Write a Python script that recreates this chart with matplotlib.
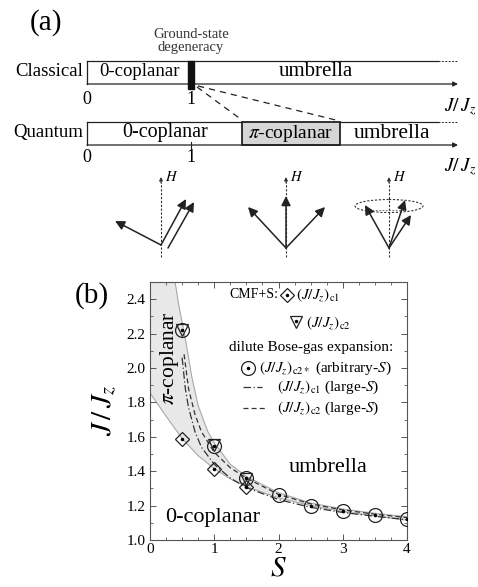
import numpy as np
import matplotlib
matplotlib.use('Agg')
import matplotlib.pyplot as plt
from matplotlib.patches import Rectangle, Ellipse
from matplotlib.ticker import MultipleLocator

plt.rcParams['font.family'] = ['Liberation Serif', 'DejaVu Serif']
plt.rcParams['mathtext.fontset'] = 'stix'

# ---- panel (b) data ----
S_cmf = [0.5, 1.0, 1.5]
Jc1_cmf = [1.59, 1.415, 1.31]
Jc2_cmf = [2.22, 1.555, 1.355]

S_bose = [0.5, 1.0, 1.5, 2.0, 2.5, 3.0, 3.5, 4.0]
Jc2_bose = [2.22, 1.545, 1.36, 1.26, 1.20, 1.17, 1.145, 1.125]

S_c1_large = [0.5, 0.55, 0.6, 0.7, 0.8, 1.0, 1.25, 1.5, 2.0, 2.5, 3.0, 3.5, 4.0]
Jc1_large = [2.06, 1.88, 1.77, 1.63, 1.54, 1.44, 1.36, 1.305, 1.235, 1.19, 1.16, 1.138, 1.118]
S_c2_large = [0.53, 0.6, 0.7, 0.8, 1.0, 1.25, 1.5, 2.0, 2.5, 3.0, 3.5, 4.0]
Jc2_large = [2.08, 1.88, 1.73, 1.63, 1.51, 1.42, 1.36, 1.265, 1.21, 1.175, 1.15, 1.13]

S_upper = [0.39, 0.45, 0.545, 0.65, 0.75, 0.9, 1.0, 1.25, 1.5, 2.0, 2.5, 3.0, 3.5, 4.0]
J_upper = [2.5, 2.36, 2.18, 1.95, 1.78, 1.63, 1.565, 1.44, 1.37, 1.275, 1.215, 1.18, 1.155, 1.135]
S_lower = [0.0, 0.25, 0.5, 0.75, 1.0, 1.25, 1.5, 2.0, 2.5, 3.0, 3.5, 4.0]
J_lower = [1.855, 1.72, 1.59, 1.49, 1.415, 1.355, 1.31, 1.245, 1.2, 1.165, 1.14, 1.115]

# ---- panel (a) data (J/Jz positions) ----
classical_ticks = [0, 1]
quantum_ticks = [0, 1]
pi_coplanar = [1.49, 2.43]


def px(j):
    # J/Jz -> pixel x for the schematic
    return 87 + 104 * j


fig = plt.figure(figsize=(4.78, 5.87), dpi=100)

# ================= panel (b) =================
ax = fig.add_axes([150 / 478, 1 - 540 / 587, 257 / 478, 258 / 587])
ax.fill(np.r_[0, S_upper, S_lower[::-1]], np.r_[2.5, J_upper, J_lower[::-1]],
        color='#e8e8e8', lw=0, zorder=0)
ax.plot(S_upper, J_upper, color='#a8a8a8', lw=0.8, zorder=1)
ax.plot(S_lower, J_lower, color='#a8a8a8', lw=0.8, zorder=1)
ax.plot(S_c1_large, Jc1_large, color='#333333', lw=0.9, ls=(0, (6, 2, 1, 2)), zorder=2)
ax.plot(S_c2_large, Jc2_large, color='#333333', lw=0.9, ls=(0, (4, 2.5)), zorder=2)

ax.plot(S_bose, Jc2_bose, 'o', mfc='none', mec='#222222', ms=10, mew=0.9, zorder=3)
ax.plot(S_cmf, Jc1_cmf, 'D', mfc='none', mec='#222222', ms=7.5, mew=0.9, zorder=3)
ax.plot(S_cmf, Jc2_cmf, 'v', mfc='none', mec='#222222', ms=9, mew=0.9, zorder=3)
ax.plot(S_bose, Jc2_bose, '.', color='k', ms=3, zorder=4)
ax.plot(S_cmf, Jc1_cmf, '.', color='k', ms=3, zorder=4)

ax.set_xlim(0, 4)
ax.set_ylim(1.0, 2.5)
ax.xaxis.set_major_locator(MultipleLocator(1))
ax.xaxis.set_minor_locator(MultipleLocator(0.25))
ax.yaxis.set_minor_locator(MultipleLocator(0.1))
ax.tick_params(which='both', direction='in', top=True, right=True, color='#555555')
ax.tick_params(which='major', length=4, width=0.7, labelsize=11)
ax.tick_params(axis='x', which='major', pad=2)
ax.tick_params(axis='y', which='major', pad=3)
ax.tick_params(which='minor', length=2, width=0.6)
ax.set_yticks([1.0, 1.2, 1.4, 1.6, 1.8, 2.0, 2.2, 2.4])
ax.set_yticklabels(['1.0', '1.2', '1.4', '1.6', '1.8', '2.0', '2.2', '2.4'])
for sp in ax.spines.values():
    sp.set_color('#555555')
    sp.set_linewidth(0.8)
ax.set_xlabel('$S$', fontsize=21, labelpad=0)
ax.set_ylabel('$J\\,/\\,J_z$', fontsize=21, labelpad=6)

ax.text(0.3, 2.06, '$\\pi$-coplanar', rotation=90, fontsize=15.5, ha='center', va='center')
ax.text(2.77, 1.42, 'umbrella', fontsize=16, ha='center', va='center')
ax.text(0.98, 1.13, '0-coplanar', fontsize=16, ha='center', va='center')

# ================= overlay (panel a + legend) =================
ov = fig.add_axes([0, 0, 1, 1], zorder=5)
ov.set_xlim(0, 478)
ov.set_ylim(587, 0)
ov.axis('off')
ov.patch.set_alpha(0)

ov.text(46, 23, '(a)', fontsize=21, ha='center', va='center')
ov.text(92, 296, '(b)', fontsize=21, ha='center', va='center')

arr = dict(arrowstyle='-|>', lw=0.9, color='#222222', mutation_scale=7, shrinkA=0, shrinkB=0)

# classical bar
ov.plot([px(0), 438], [61, 61], color='#222222', lw=0.9)
ov.plot([438, 458], [61, 61], color='#222222', lw=0.7, ls=(0, (2, 1.5)))
ov.plot([px(0), px(0)], [61, 84], color='#222222', lw=0.9)
ov.annotate('', xy=(458, 84), xytext=(px(0), 84), arrowprops=arr)
ov.add_patch(Rectangle((px(1) - 2.5, 61), 6, 28, color='#111111', zorder=3))
ov.text(83, 72, 'Classical', fontsize=13.5, ha='right', va='center')
ov.text(140, 71, '0-coplanar', fontsize=13.5, ha='center', va='center')
ov.text(316, 71, 'umbrella', fontsize=15, ha='center', va='center')
for t in classical_ticks:
    ov.text(px(t), 99, str(t), fontsize=13, ha='center', va='center')
ov.text(476, 107, '$J/\\,J_z$', fontsize=14, ha='right', va='center')
ov.text(191, 34, 'Ground-state', fontsize=10.5, ha='center', va='center', color='#333333')
ov.text(191, 48, 'degeneracy', fontsize=10.5, ha='center', va='center', color='#333333')

# zoom dashes
ov.plot([197, px(pi_coplanar[0])], [87, 120], color='#222222', lw=0.9, ls=(0, (5, 4)))
ov.plot([198, px(pi_coplanar[1])], [86, 121], color='#222222', lw=0.9, ls=(0, (5, 4)))

# quantum bar
ov.plot([px(0), 438], [122, 122], color='#222222', lw=0.9)
ov.plot([438, 458], [122, 122], color='#222222', lw=0.7, ls=(0, (2, 1.5)))
ov.plot([px(0), px(0)], [122, 145], color='#222222', lw=0.9)
ov.annotate('', xy=(458, 145), xytext=(px(0), 145), arrowprops=arr)
ov.add_patch(Rectangle((px(pi_coplanar[0]), 122), px(pi_coplanar[1]) - px(pi_coplanar[0]), 23,
                       facecolor='#d6d6d6', edgecolor='#222222', lw=1.3, zorder=2))
ov.plot([px(1), px(1)], [142, 152], color='#222222', lw=0.8)
ov.text(83, 133, 'Quantum', fontsize=13.5, ha='right', va='center')
ov.text(165, 133, '0-coplanar', fontsize=14.5, ha='center', va='center')
ov.text(291, 133, '$\\pi$-coplanar', fontsize=14, ha='center', va='center')
ov.text(392, 133, 'umbrella', fontsize=15.5, ha='center', va='center')
for t in quantum_ticks:
    ov.text(px(t), 158, str(t), fontsize=13, ha='center', va='center')
ov.text(476, 167, '$J/\\,J_z$', fontsize=14, ha='right', va='center')

# spin configurations
spin = dict(arrowstyle='-|>', lw=1.1, color='#222222', mutation_scale=14, shrinkA=0, shrinkB=0)
head = dict(arrowstyle='-|>', lw=0.8, color='#333333', mutation_scale=5, shrinkA=0, shrinkB=0)
for xh in [161, 286, 389]:
    ov.plot([xh, xh], [257, 182], color='#333333', lw=0.8, ls=(0, (2, 1.5)))
    ov.annotate('', xy=(xh, 177), xytext=(xh, 183), arrowprops=head)
    ov.text(xh + 4, 177, '$H$', fontsize=10.5, ha='left', va='center')

diag1 = [((161, 245), (115, 221)), ((161, 245), (186, 199)), ((168, 248), (194, 202))]
diag2 = [((286, 248), (248, 207)), ((286, 248), (286, 196)), ((286, 248), (325, 207))]
diag3 = [((389, 248), (365, 205)), ((389, 248), (405, 200)), ((389, 248), (411, 215))]
for base, tip in diag1 + diag2 + diag3:
    ov.annotate('', xy=tip, xytext=base, arrowprops=spin)
ov.add_patch(Ellipse((389, 206), 68, 13, fill=False, ec='#333333', lw=0.8, ls=(0, (2, 1.5))))
ov.plot([372, 405], [210, 210], color='#555555', lw=0.6, ls=(0, (2, 2)))

# legend for panel (b)
lf = 11
ov.text(229, 295, 'CMF+S:', fontsize=10, ha='left', va='center')
ov.plot([287], [295], 'D', mfc='none', mec='#222222', ms=7.5, mew=0.9)
ov.plot([287], [295], '.', color='k', ms=3)
ov.text(296, 295, '$(J/J_z)_{\\rm c1}$', fontsize=lf, ha='left', va='center')
ov.plot([296], [322], 'v', mfc='none', mec='#222222', ms=9, mew=0.9)
ov.plot([296], [321], '.', color='k', ms=3)
ov.text(306, 323, '$(J/J_z)_{\\rm c2}$', fontsize=lf, ha='left', va='center')
ov.text(229, 347, 'dilute Bose-gas expansion:', fontsize=lf, ha='left', va='center')
ov.plot([248], [368], 'o', mfc='none', mec='#222222', ms=10, mew=0.9)
ov.plot([248], [368], '.', color='k', ms=3)
ov.text(259, 368, '$(J/J_z)_{\\rm c2*}$ (arbitrary-$S$)', fontsize=lf, ha='left', va='center')
ov.plot([243, 262], [387, 387], color='#333333', lw=0.9, ls=(0, (6, 2, 1, 2)))
ov.text(277, 387, '$(J/J_z)_{\\rm c1}$ (large-$S$)', fontsize=lf, ha='left', va='center')
ov.plot([243, 265], [408, 408], color='#333333', lw=0.9, ls=(0, (4, 2.5)))
ov.text(277, 408, '$(J/J_z)_{\\rm c2}$ (large-$S$)', fontsize=lf, ha='left', va='center')

fig.savefig('out.png', dpi=100)
